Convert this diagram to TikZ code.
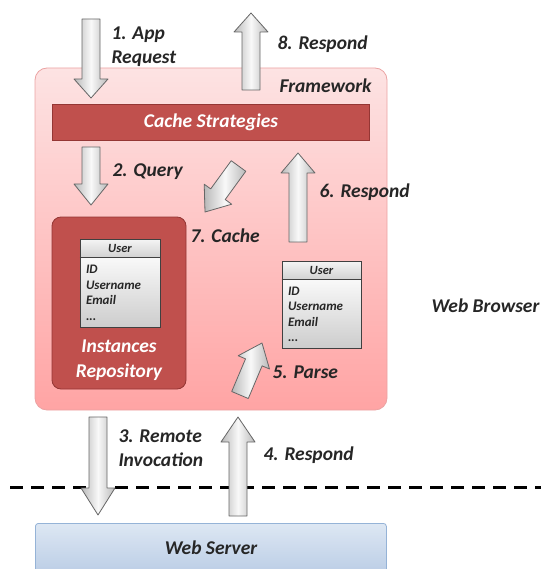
\documentclass[tikz,border=0pt]{standalone}
\usepackage{fontspec}
\setmainfont{Carlito}
\usepackage{tikz}
\usetikzlibrary{shapes,arrows,calc}
\definecolor{txtdark}{HTML}{262626}
\definecolor{cachered}{HTML}{C0504D}
\definecolor{cacheedge}{HTML}{943634}
\definecolor{fwtop}{HTML}{FDE3E3}
\definecolor{fwbottom}{HTML}{FFA4A4}
\definecolor{fwedge}{HTML}{EBA3A3}
\definecolor{wstop}{HTML}{DDE7F3}
\definecolor{wsbottom}{HTML}{B4C8E3}
\definecolor{wsedge}{HTML}{95B3D7}
\tikzstyle{framework} = [rectangle, draw=fwedge, thick, rounded corners=12pt, top color=fwtop, bottom color=fwbottom]
\tikzstyle{redblock} = [rectangle, draw=cacheedge, thick, fill=cachered, text=white, align=center, font=\fontsize{19.5}{24}\selectfont\bfseries\itshape]
\tikzstyle{serverblock} = [rectangle, draw=wsedge, thick, rounded corners=3pt, top color=wstop, bottom color=wsbottom]
\tikzstyle{label} = [text=txtdark, align=left, anchor=west, font=\fontsize{19.5}{24}\selectfont\bfseries\itshape]
\tikzstyle{classhead} = [rectangle, draw=black!75, thick, minimum height=18, inner sep=0pt, top color=gray!8, bottom color=gray!35, text=txtdark, font=\fontsize{12.5}{14}\selectfont\bfseries\itshape]
\tikzstyle{classbody} = [rectangle, draw=black!75, thick, inner sep=0pt, top color=gray!5, bottom color=gray!40, text=txtdark, align=left, font=\fontsize{13}{15.5}\selectfont\bfseries\itshape]
\tikzstyle{blockarrow} = [draw=black!60, thick, line join=round, left color=gray!55, right color=gray!55, middle color=gray!5]
\tikzstyle{divider} = [draw, line width=3pt, dash pattern=on 13pt off 8pt]
% shaded block arrow: tail, tip, head length
\newcommand{\blockarrow}[3]{%
  \coordinate (hb) at ($(#2)!#3pt!(#1)$);
  \path [blockarrow] ($(#1)!9pt!90:(#2)$) -- ($(hb)!9pt!90:(#2)$) -- ($(hb)!17pt!90:(#2)$)
    -- (#2) -- ($(hb)!17pt!-90:(#2)$) -- ($(hb)!9pt!-90:(#2)$) -- ($(#1)!9pt!-90:(#2)$) -- cycle;}

\begin{document}
\begin{tikzpicture}[x=1pt, y=-1pt]
\clip (0, 0) rectangle (541, 569);

% browser side
\node [framework, minimum width=352, minimum height=342] at (211, 239) (fw) {};
\node [label] at (276, 86) (fwlabel) {Framework};
\node [label] at (428, 306) (browser) {Web Browser};

\node [redblock, minimum width=317, minimum height=36, inner sep=0pt] at (211, 122) (cache) {Cache Strategies};
\node [redblock, rounded corners=9pt, minimum width=134, minimum height=172] at (119, 303) (repo) {};
\node [text=white, align=center, font=\fontsize{19.5}{25}\selectfont\bfseries\itshape] at (119, 360) (repolabel) {Instances\\Repository};

% user objects
\node [classhead, minimum width=80] at (120, 248) (userAhead) {User};
\node [classbody, minimum width=80, minimum height=70, anchor=north, text width=68] at (userAhead.south) (userAbody) {ID\\Username\\Email\\...};
\draw [black!75, very thick] (userAhead.south west) -- (userAhead.south east);
\node [classhead, minimum width=79] at (321.5, 270) (userBhead) {User};
\node [classbody, minimum width=79, minimum height=69, anchor=north, text width=67] at (userBhead.south) (userBbody) {ID\\Username\\Email\\...};
\draw [black!75, very thick] (userBhead.south west) -- (userBhead.south east);

% server side
\draw [divider] (10, 487) coordinate (dl) -- (541, 487) coordinate (dr);
\node [serverblock, minimum width=351, minimum height=60, anchor=north west] at (35, 523) (server) {};
\node [text=txtdark, font=\fontsize{19.5}{24}\selectfont\bfseries\itshape] at (211, 548) (serverlabel) {Web Server};

% arrows
\coordinate (a1s) at (91, 19);   \coordinate (a1e) at (91, 98);
\coordinate (a2s) at (91, 147);  \coordinate (a2e) at (91, 205);
\coordinate (a3s) at (98, 417);  \coordinate (a3e) at (98, 515);
\coordinate (a4s) at (238, 516); \coordinate (a4e) at (238, 417);
\coordinate (a5s) at (240, 395); \coordinate (a5e) at (262, 343);
\coordinate (a6s) at (298, 242); \coordinate (a6e) at (298, 153);
\coordinate (a7s) at (238.5, 166); \coordinate (a7e) at (205, 212);
\coordinate (a8s) at (251, 90);  \coordinate (a8e) at (251, 13);
\blockarrow{a1s}{a1e}{19}
\blockarrow{a2s}{a2e}{21}
\blockarrow{a3s}{a3e}{27}
\blockarrow{a4s}{a4e}{25}
\blockarrow{a5s}{a5e}{21}
\blockarrow{a6s}{a6e}{20}
\blockarrow{a7s}{a7e}{22}
\blockarrow{a8s}{a8e}{19}

\node [label] at (108, 47) (l1) {1. App\\Request};
\node [label] at (109, 172) (l2) {2. Query};
\node [label] at (115, 448) (l3) {3. Remote\\Invocation};
\node [label] at (260, 455) (l4) {4. Respond};
\node [label] at (269, 372) (l5) {5. Parse};
\node [label] at (316, 192) (l6) {6. Respond};
\node [label] at (187, 236) (l7) {7. Cache};
\node [label] at (274, 44) (l8) {8. Respond};
\end{tikzpicture}
\end{document}
